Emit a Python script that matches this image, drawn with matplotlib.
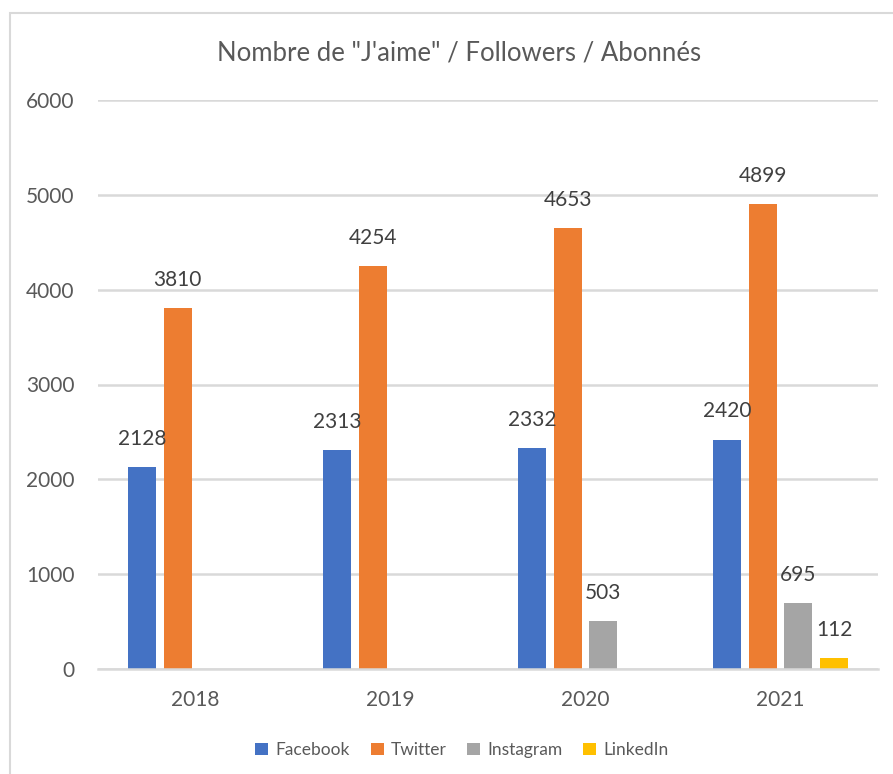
import numpy as np
import matplotlib
matplotlib.use("Agg")
from matplotlib import pyplot as plt
from matplotlib.patches import Rectangle

plt.rcParams['font.family'] = ['Lato', 'DejaVu Sans']

years = ["2018", "2019", "2020", "2021"]
facebook = [2128, 2313, 2332, 2420]
twitter = [3810, 4254, 4653, 4899]
instagram = [np.nan, np.nan, 503, 695]
linkedin = [np.nan, np.nan, np.nan, 112]

series = [("Facebook", facebook, "#4472C4"),
          ("Twitter", twitter, "#ED7D31"),
          ("Instagram", instagram, "#A5A5A5"),
          ("LinkedIn", linkedin, "#FFC000")]

txt = "#595959"
grid_c = "#D9D9D9"

fig = plt.figure(figsize=(8.93, 7.74), dpi=100)
# chart frame
fig.patches.append(Rectangle((10 / 893, -0.1), 1.1, 1 - 13 / 774 + 0.1,
                             transform=fig.transFigure, fill=False,
                             edgecolor=grid_c, linewidth=1.5))

ax = fig.add_axes([98 / 893, 1 - 669 / 774, 780 / 893, 569 / 774])

x = np.arange(len(years))
step = 0.1836
width = 0.1436
for i, (name, vals, col) in enumerate(series):
    bars = ax.bar(x + (i - 1.5) * step, vals, width, color=col, label=name)
    labels = ["" if np.isnan(v) else f"{int(v)}" for v in np.asarray(vals, float)]
    ax.bar_label(bars, labels=labels, padding=13, fontsize=15, color="#404040")

ax.set_xlim(-0.5, 3.5)
ax.set_ylim(0, 6000)
ax.set_yticks(np.arange(0, 6001, 1000))
ax.set_xticks(x)
ax.set_xticklabels(years)
ax.yaxis.grid(True, color=grid_c, linewidth=1.8)
ax.set_axisbelow(True)
for s in ["top", "right", "left"]:
    ax.spines[s].set_visible(False)
ax.spines["bottom"].set_color(grid_c)
ax.spines["bottom"].set_linewidth(1.8)
ax.tick_params(axis="both", length=0, labelsize=15, labelcolor=txt)
ax.tick_params(axis="y", pad=17)
ax.tick_params(axis="x", pad=15)

fig.text(459 / 893, 1 - 53 / 774, "Nombre de \"J'aime\" / Followers / Abonnés",
         ha="center", va="center", fontsize=18.5, color=txt)

fig.legend(loc="center", bbox_to_anchor=(462 / 893, 1 - 750 / 774), ncol=4,
           frameon=False, fontsize=12.5, labelcolor=txt, handlelength=0.75,
           handleheight=0.75, handletextpad=0.4, columnspacing=1.2)

fig.savefig("out.png", dpi=100, facecolor="white")
